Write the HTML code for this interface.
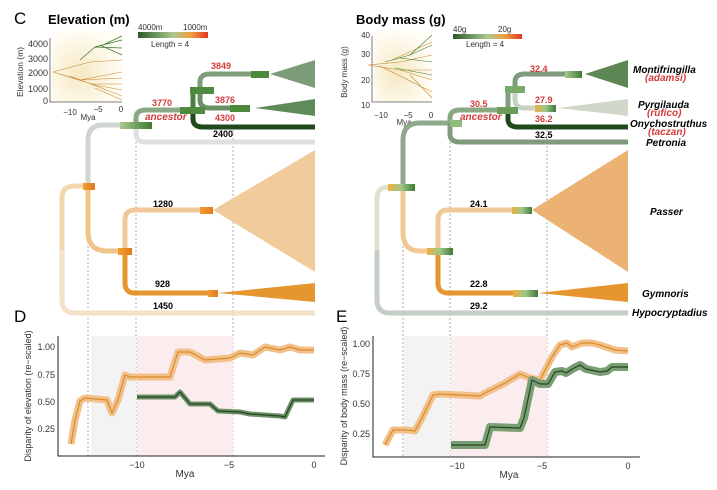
<!DOCTYPE html>
<html><head><meta charset="utf-8"><style>
body{margin:0;background:#fff}
svg{display:block;font-family:"Liberation Sans",sans-serif}
.b{font-weight:bold;font-size:9px}
.r{fill:#d33a3a}
.sp{font-weight:bold;font-style:italic;font-size:10px}
.t{font-size:9px;fill:#333}
</style></head><body>
<svg width="717" height="490" viewBox="0 0 717 490">
<defs>
<linearGradient id="cb1" x1="0" x2="1"><stop offset="0" stop-color="#2d5a27"/><stop offset=".5" stop-color="#a9c98f"/><stop offset=".75" stop-color="#f0a040"/><stop offset="1" stop-color="#e23a1e"/></linearGradient>
<linearGradient id="bx" x1="0" x2="1"><stop offset="0" stop-color="#a8c890"/><stop offset="1" stop-color="#3f7a34"/></linearGradient>
<linearGradient id="bo" x1="0" x2="1"><stop offset="0" stop-color="#f0a030"/><stop offset="1" stop-color="#e07a20"/></linearGradient>
<linearGradient id="bm" x1="0" x2="1"><stop offset="0" stop-color="#f0b040"/><stop offset=".5" stop-color="#9cc88a"/><stop offset="1" stop-color="#3f7a34"/></linearGradient>
<radialGradient id="ig" cx=".4" cy=".6" r=".6"><stop offset="0" stop-color="#f6e8c4"/><stop offset="1" stop-color="#fffdf5"/></radialGradient>
</defs>
<g fill="none" stroke-dasharray="2,2" stroke="#999" stroke-width="0.8">
<path d="M88 130V456M136 130V456M233 130V456M403 130V456M450 130V456M547 130V456"/>
</g>
<!-- Panel C -->
<text x="14" y="24" font-size="17">C</text>
<text x="48" y="24" font-size="13" font-weight="bold">Elevation (m)</text>
<rect x="52" y="30" width="70" height="72" fill="url(#ig)"/>
<path d="M50 38V102H122" stroke="#555" fill="none" stroke-width=".8"/>
<g class="t" font-size="8" text-anchor="end"><text x="48" y="47">4000</text><text x="48" y="62">3000</text><text x="48" y="76">2000</text><text x="48" y="92">1000</text><text x="48" y="104">0</text></g>
<g font-size="8" fill="#333" text-anchor="middle"><text x="70" y="115">−10</text><text x="98" y="112">−5</text><text x="121" y="112">0</text><text x="88" y="120">Mya</text></g>
<text transform="translate(23,72) rotate(-90)" font-size="8.5" text-anchor="middle" fill="#333">Elevation (m)</text>
<g stroke="#c98a2e" stroke-width=".6" fill="none"><path d="M53 72L90 62L122 60M53 72L80 80L122 78M53 72L95 85L122 90M70 76L122 96M80 80L122 72M90 84L122 84M95 88L122 100"/></g>
<g stroke="#3d7a2e" stroke-width=".7" fill="none"><path d="M80 60L95 47L122 40M95 47L122 48M105 44L122 36M100 45L122 55"/></g>
<rect x="138" y="32" width="70" height="6" fill="url(#cb1)"/>
<text x="138" y="30" font-size="8" fill="#333">4000m</text><text x="183" y="30" font-size="8" fill="#333">1000m</text>
<text x="151" y="47" font-size="8" fill="#333">Length = 4</text>
<g fill="none" stroke-width="5" stroke-linecap="butt">
<path d="M62 250V300Q62 313 75 313H315" stroke="#f3e2c8"/>
<path d="M62 250V198Q62 186 75 186H88" stroke="#f1d6ae"/>
<path d="M88 186V140Q88 125 103 125H136" stroke="#cfd6d0"/>
<path d="M88 186V232Q88 251 108 251H125" stroke="#f0c488"/>
<path d="M136 125V134Q136 142 146 142H315" stroke="#dde2dc"/>
<path d="M136 125V118Q136 110 146 110H193" stroke="#8aa884"/>
<path d="M193 110V119Q193 127 203 127H315" stroke="#1f4a1c"/>
<path d="M193 110V90H200" stroke="#4e7d45"/>
<path d="M200 90V82Q200 74 210 74H260" stroke="#7f9e7c"/>
<path d="M200 90V100Q200 108 210 108H240" stroke="#6a8f64"/>
<path d="M125 251V220Q125 210 135 210H205" stroke="#f0c89a"/>
<path d="M125 251V283Q125 293 135 293H213" stroke="#e6962e"/>
</g>
<rect x="120" y="122" width="32" height="7" fill="url(#bx)"/>
<rect x="180" y="107" width="25" height="7" fill="#4f8a3f"/>
<rect x="190" y="87" width="24" height="7" fill="#4f8a3f"/>
<rect x="251" y="71" width="18" height="7" fill="#4a8a3a"/>
<rect x="230" y="105" width="20" height="7" fill="#4a8a3a"/>
<rect x="83" y="183" width="12" height="7" fill="url(#bo)"/>
<rect x="118" y="248" width="14" height="7" fill="url(#bo)"/>
<rect x="200" y="207" width="13" height="7" fill="url(#bo)"/>
<rect x="208" y="290" width="10" height="7" fill="url(#bo)"/>
<polygon points="270,74 315,60 315,88" fill="#7c9b78"/>
<polygon points="255,108 315,99 315,116" fill="#5f8a5a"/>
<polygon points="213,210 315,150 315,272" fill="#f2cb9c"/>
<polygon points="218,293 315,283 315,302" fill="#e6962e"/>
<g class="b"><text x="211" y="69" class="r">3849</text><text x="152" y="106" class="r">3770</text><text x="145" y="120" class="r" font-style="italic" font-size="10">ancestor</text><text x="215" y="103" class="r">3876</text><text x="215" y="121" class="r">4300</text><text x="213" y="137">2400</text><text x="153" y="207">1280</text><text x="155" y="287">928</text><text x="153" y="309">1450</text></g>
<!-- Panel E tree -->
<text x="356" y="24" font-size="13" font-weight="bold">Body mass (g)</text>
<rect x="374" y="30" width="58" height="72" fill="url(#ig)"/>
<path d="M372 36V102H432" stroke="#555" fill="none" stroke-width=".8"/>
<g font-size="8" fill="#333" text-anchor="end"><text x="370" y="38">40</text><text x="370" y="57">30</text><text x="370" y="83">20</text><text x="370" y="108">10</text></g>
<g font-size="8" fill="#333" text-anchor="middle"><text x="381" y="118">−10</text><text x="408" y="118">−5</text><text x="431" y="118">0</text><text x="404" y="125">Mya</text></g>
<text transform="translate(347,72) rotate(-90)" font-size="8" text-anchor="middle" fill="#333">Body mass (g)</text>
<g stroke="#c98a2e" stroke-width=".6" fill="none"><path d="M368 65L400 62L432 55M368 65L400 70L432 80M380 66L432 92M400 70L432 70M410 75L432 98M392 60L432 42"/></g>
<g stroke="#3d7a2e" stroke-width=".6" fill="none"><path d="M385 62L410 55L432 45M400 58L432 62M410 55L432 35M395 68L432 75"/></g>
<rect x="453" y="34" width="69" height="5" fill="url(#cb1)"/>
<text x="453" y="32" font-size="8" fill="#333">40g</text><text x="498" y="32" font-size="8" fill="#333">20g</text>
<text x="466" y="47" font-size="8" fill="#333">Length = 4</text>
<g fill="none" stroke-width="5">
<path d="M377 250V300Q377 313 390 313H628" stroke="#c5cec4"/>
<path d="M377 250V198Q377 187 390 187H403" stroke="#dfe3cc"/>
<path d="M403 187V140Q403 123 420 123H450" stroke="#8fa88c"/>
<path d="M403 187V232Q403 251 420 251H438" stroke="#f0c890"/>
<path d="M450 123V134Q450 142 460 142H628" stroke="#7f9a7c"/>
<path d="M450 123V118Q450 110 460 110H508" stroke="#8aa884"/>
<path d="M508 110V119Q508 127 518 127H628" stroke="#1f4a1c"/>
<path d="M508 110V89H515" stroke="#7f9e7c"/>
<path d="M515 89V82Q515 74 525 74H575" stroke="#7f9a7c"/>
<path d="M515 89V100Q515 108 525 108H550" stroke="#c8d2c4"/>
<path d="M438 251V220Q438 210 448 210H520" stroke="#f0c89a"/>
<path d="M438 251V283Q438 293 448 293H520" stroke="#e6962e"/>
</g>
<rect x="388" y="184" width="27" height="7" fill="url(#bm)"/>
<rect x="450" y="120" width="12" height="7" fill="#8fbc7a"/>
<rect x="497" y="107" width="21" height="7" fill="#6a9c5a"/>
<rect x="505" y="86" width="20" height="7" fill="#7aaa6a"/>
<rect x="565" y="71" width="17" height="7" fill="url(#bx)"/>
<rect x="535" y="105" width="21" height="7" fill="url(#bm)"/>
<rect x="427" y="248" width="26" height="7" fill="url(#bm)"/>
<rect x="512" y="207" width="20" height="7" fill="url(#bm)"/>
<rect x="513" y="290" width="25" height="7" fill="url(#bm)"/>
<polygon points="585,74 628,60 628,88" fill="#5e8756"/>
<polygon points="558,108 628,99 628,116" fill="#d0d8ca"/>
<polygon points="532,210 628,150 628,272" fill="#ebb274"/>
<polygon points="538,293 628,283 628,302" fill="#e6962e"/>
<g class="b"><text x="530" y="72" class="r">32.4</text><text x="470" y="107" class="r">30.5</text><text x="460" y="120" class="r" font-style="italic" font-size="10">ancestor</text><text x="535" y="103" class="r">27.9</text><text x="535" y="122" class="r">36.2</text><text x="535" y="138">32.5</text><text x="470" y="207">24.1</text><text x="470" y="287">22.8</text><text x="470" y="309">29.2</text></g>
<g class="sp"><text x="633" y="73">Montifringilla</text><text x="638" y="108">Pyrgilauda</text><text x="630" y="127">Onychostruthus</text><text x="646" y="146">Petronia</text><text x="650" y="215">Passer</text><text x="642" y="297">Gymnoris</text><text x="632" y="316">Hypocryptadius</text></g>
<g fill="#d33a3a" font-style="italic" font-size="10" font-weight="bold"><text x="645" y="81">(adamsi)</text><text x="647" y="116">(rufico)</text><text x="648" y="135">(taczan)</text></g>
<text x="14" y="322" font-size="17">D</text>
<text x="336" y="322" font-size="17">E</text>
<!-- Panel D -->
<rect x="91" y="336" width="45" height="120" fill="#f3f3f3"/>
<rect x="137" y="336" width="96" height="120" fill="#fbeced"/>
<path d="M58 336V456H325" stroke="#222" fill="none" stroke-width="1"/>
<g font-size="9" fill="#333" text-anchor="end"><text x="55" y="350">1.00</text><text x="55" y="378">0.75</text><text x="55" y="405">0.50</text><text x="55" y="432">0.25</text></g>
<g font-size="9" fill="#333" text-anchor="middle"><text x="137" y="468">−10</text><text x="229" y="468">−5</text><text x="314" y="468">0</text><text x="185" y="477" font-size="10">Mya</text></g>
<text transform="translate(31,396) rotate(-90)" font-size="9" text-anchor="middle" fill="#333">Disparity of elevation (re−scaled)</text>
<g fill="none" stroke-linejoin="round">
<path d="M71 444L75 420L80 401L85 398L107 400L112 413L118 400L125 375L130 377L170 377L178 352L190 352L205 360L230 358L240 353L253 355L265 347L280 350L290 347L300 350L314 350" stroke="#f2c08a" stroke-width="7"/>
<path d="M71 444L75 420L80 401L85 398L107 400L112 413L118 400L125 375L130 377L170 377L178 352L190 352L205 360L230 358L240 353L253 355L265 347L280 350L290 347L300 350L314 350" stroke="#d98c2a" stroke-width="1.2"/>
<path d="M137 397L175 397L180 392L190 404L210 404L218 411L240 412L250 414L280 416L285 417L293 400L314 400" stroke="#6d8f68" stroke-width="5"/>
<path d="M137 397L175 397L180 392L190 404L210 404L218 411L240 412L250 414L280 416L285 417L293 400L314 400" stroke="#24461f" stroke-width="1.2"/>
</g>
<!-- Panel E -->
<rect x="404" y="336" width="46" height="121" fill="#f3f3f3"/>
<rect x="451" y="336" width="96" height="121" fill="#fbeced"/>
<path d="M373 336V457H640" stroke="#222" fill="none" stroke-width="1"/>
<g font-size="9" fill="#333" text-anchor="end"><text x="370" y="347">1.00</text><text x="370" y="377">0.75</text><text x="370" y="407">0.50</text><text x="370" y="437">0.25</text></g>
<g font-size="9" fill="#333" text-anchor="middle"><text x="457" y="469">−10</text><text x="542" y="469">−5</text><text x="628" y="469">0</text><text x="509" y="478" font-size="10">Mya</text></g>
<text transform="translate(347,396) rotate(-90)" font-size="9" text-anchor="middle" fill="#333">Disparity of body mass (re−scaled)</text>
<g fill="none" stroke-linejoin="round">
<path d="M385 445L393 430L405 430L415 431L422 418L433 395L440 394L480 396L485 393L495 388L505 383L520 374L530 378L540 380L552 357L560 345L567 343L572 347L582 343L592 343L600 345L615 350L628 351" stroke="#f2c08a" stroke-width="7"/>
<path d="M385 445L393 430L405 430L415 431L422 418L433 395L440 394L480 396L485 393L495 388L505 383L520 374L530 378L540 380L552 357L560 345L567 343L572 347L582 343L592 343L600 345L615 350L628 351" stroke="#d98c2a" stroke-width="1.2"/>
<path d="M451 445L485 445L490 427L520 428L524 418L532 380L540 384L548 384L555 372L562 371L566 373L574 368L580 365L586 369L600 372L607 371L612 367L628 367" stroke="#7a9e74" stroke-width="8"/>
<path d="M451 445L485 445L490 427L520 428L524 418L532 380L540 384L548 384L555 372L562 371L566 373L574 368L580 365L586 369L600 372L607 371L612 367L628 367" stroke="#24461f" stroke-width="1.2"/>
</g>
</svg>
</body></html>
